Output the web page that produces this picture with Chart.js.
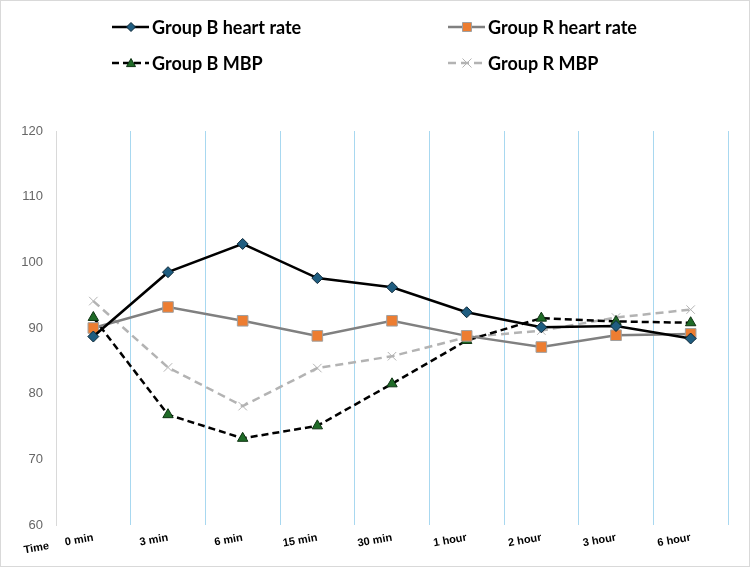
<!DOCTYPE html>
<html lang="en">
<head>
<meta charset="UTF-8">
<title>Heart rate and MBP</title>
<script src="https://cdn.jsdelivr.net/npm/chart.js@4.4.1/dist/chart.umd.min.js"></script>
<style>
  html, body { margin: 0; padding: 0; background: #fff; }
  #wrap { width: 750px; height: 567px; position: relative; }
</style>
</head>
<body>
<div id="wrap"><canvas id="chart"></canvas></div>
<script>
// time points
const timeLabels = ['0 min', '3 min', '6 min', '15 min', '30 min', '1 hour', '2 hour', '3 hour', '6 hour'];
const yTicks = [60, 70, 80, 90, 100, 110, 120];

// values
const groupBHeartRate = [88.7, 98.5, 102.8, 97.6, 96.2, 92.4, 90.1, 90.3, 88.4];
const groupRHeartRate = [90.0, 93.2, 91.1, 88.8, 91.1, 88.8, 87.1, 88.9, 89.1];
const groupBMBP = [91.6, 76.8, 73.2, 75.1, 81.5, 88.1, 91.5, 91.0, 90.8];
const groupRMBP = [94.1, 84.0, 78.1, 83.9, 85.7, 88.6, 89.6, 91.6, 92.8];

const tickFont = { family: 'Liberation Sans', size: 11, weight: 'bold' };

// legend in two columns, line + marker sample like the original
const legendPlugin = {
  id: 'twoColLegend',
  afterDraw(chart) {
    const ctx = chart.ctx;
    const colX = [112, 448];
    const rowY = [27, 63];
    chart.data.datasets.forEach((ds, i) => {
      const x = colX[i % 2];
      const y = rowY[Math.floor(i / 2)];
      ctx.save();
      ctx.strokeStyle = ds.borderColor;
      ctx.lineWidth = 2.5;
      ctx.setLineDash(ds.borderDash || []);
      ctx.beginPath();
      ctx.moveTo(x, y);
      ctx.lineTo(x + 37, y);
      ctx.stroke();
      ctx.setLineDash([]);
      drawMarker(ctx, ds.pointStyle, x + 19, y, 4.5, ds.pointBackgroundColor, ds.pointBorderColor);
      ctx.fillStyle = '#000';
      ctx.font = 'bold 18px Lato';
      ctx.textBaseline = 'middle';
      ctx.textAlign = 'left';
      ctx.fillText(ds.label, x + 40, y + 1);
      ctx.restore();
    });

    // "Time" label in front of the x ticks
    ctx.save();
    ctx.translate(49, 546);
    ctx.rotate(-10 * Math.PI / 180);
    ctx.font = 'bold 11px Liberation Sans';
    ctx.fillStyle = '#000';
    ctx.textAlign = 'right';
    ctx.textBaseline = 'middle';
    ctx.fillText('Time', 0, 0);
    ctx.restore();

    // outer frame
    ctx.save();
    ctx.strokeStyle = '#d9d9d9';
    ctx.lineWidth = 1;
    ctx.strokeRect(0.5, 0.5, chart.width - 1, chart.height - 1);
    ctx.restore();
  }
};

function drawMarker(ctx, style, x, y, r, fill, stroke) {
  ctx.fillStyle = fill;
  ctx.strokeStyle = stroke;
  ctx.lineWidth = 1;
  ctx.beginPath();
  if (style === 'rectRot') {
    ctx.moveTo(x, y - r); ctx.lineTo(x + r, y); ctx.lineTo(x, y + r); ctx.lineTo(x - r, y); ctx.closePath();
    ctx.fill(); ctx.stroke();
  } else if (style === 'rect') {
    ctx.rect(x - r, y - r, 2 * r, 2 * r);
    ctx.fill(); ctx.stroke();
  } else if (style === 'triangle') {
    ctx.moveTo(x, y - r); ctx.lineTo(x + r, y + r * 0.8); ctx.lineTo(x - r, y + r * 0.8); ctx.closePath();
    ctx.fill(); ctx.stroke();
  } else {
    ctx.moveTo(x - r, y - r); ctx.lineTo(x + r, y + r);
    ctx.moveTo(x + r, y - r); ctx.lineTo(x - r, y + r);
    ctx.stroke();
  }
}

const ctx = document.getElementById('chart').getContext('2d');
new Chart(ctx, {
  type: 'line',
  data: {
    labels: timeLabels,
    datasets: [
      {
        label: 'Group B heart rate',
        data: groupBHeartRate,
        borderColor: '#000000',
        borderWidth: 2.5,
        pointStyle: 'rectRot',
        pointRadius: 5.5,
        pointBackgroundColor: '#1f5d80',
        pointBorderColor: '#0c2737',
        pointBorderWidth: 1
      },
      {
        label: 'Group R heart rate',
        data: groupRHeartRate,
        borderColor: '#808080',
        borderWidth: 2.5,
        pointStyle: 'rect',
        pointRadius: 7.5,
        pointBackgroundColor: '#ed7d31',
        pointBorderColor: '#a0a0a0',
        pointBorderWidth: 1
      },
      {
        label: 'Group B MBP',
        data: groupBMBP,
        borderColor: '#000000',
        borderWidth: 2.5,
        borderDash: [7, 4],
        pointStyle: 'triangle',
        pointRadius: 6,
        pointBackgroundColor: '#1f6b27',
        pointBorderColor: '#0f3313',
        pointBorderWidth: 1
      },
      {
        label: 'Group R MBP',
        data: groupRMBP,
        borderColor: '#b3b3b3',
        borderWidth: 2.5,
        borderDash: [8, 5],
        pointStyle: 'crossRot',
        pointRadius: 6,
        pointBackgroundColor: '#b3b3b3',
        pointBorderColor: '#b3b3b3',
        pointBorderWidth: 1
      }
    ]
  },
  options: {
    responsive: true,
    maintainAspectRatio: false,
    animation: false,
    layout: { padding: { top: 131, right: 22, left: 0, bottom: 0 } },
    plugins: {
      legend: { display: false },
      tooltip: { enabled: false }
    },
    scales: {
      x: {
        type: 'category',
        offset: true,
        grid: {
          offset: true,
          drawTicks: false,
          lineWidth: 1,
          color: (c) => c.index === 0 ? 'rgba(0,0,0,0)' : '#a8d8f0'
        },
        border: { display: false },
        ticks: {
          color: '#000',
          font: tickFont,
          minRotation: 10,
          maxRotation: 10,
          padding: 6
        },
        afterFit: (scale) => { scale.height = 42; }
      },
      y: {
        min: 60,
        max: 120,
        afterBuildTicks: (scale) => { scale.ticks = yTicks.map(v => ({ value: v })); },
        grid: { display: false },
        border: { display: true, color: '#d9d9d9', width: 1 },
        ticks: {
          color: '#666666',
          font: { family: 'Liberation Sans', size: 13 },
          padding: 5
        },
        afterFit: (scale) => { scale.width = 56; }
      }
    }
  },
  plugins: [legendPlugin]
});
</script>
</body>
</html>
